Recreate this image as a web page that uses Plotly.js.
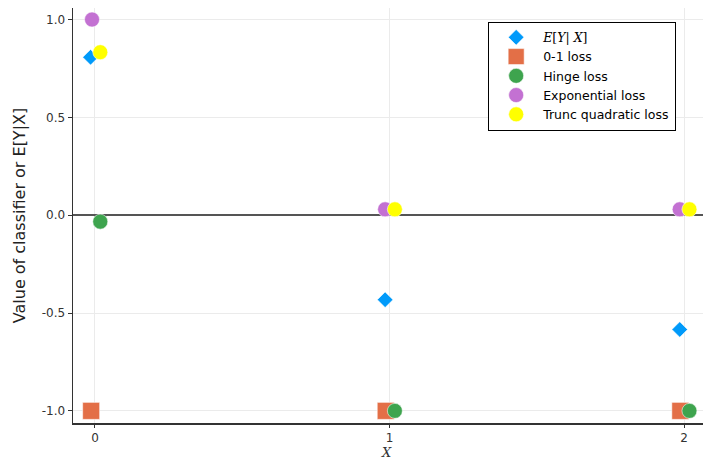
<!DOCTYPE html>
<html>
<head>
<meta charset="utf-8">
<script src="https://cdn.plot.ly/plotly-3.0.1.min.js"></script>
<style>html,body{margin:0;padding:0;background:#fff;}#chart{width:704px;height:462px;}</style>
</head>
<body>
<div id="chart"></div>
<script>
// Data
var xCond = [-0.015, 0.985, 1.985];
var yCond = [0.807, -0.432, -0.584];
var xZeroOne = [-0.013, 0.987, 1.987];
var yZeroOne = [-1.0, -1.0, -1.0];
var xHinge = [0.018, 1.018, 2.018];
var yHinge = [-0.033, -1.0, -1.0];
var xExp = [-0.01, 0.985, 1.985];
var yExp = [1.0, 0.03, 0.03];
var xTrunc = [0.018, 1.018, 2.018];
var yTrunc = [0.833, 0.03, 0.03];
var names = ["<span style='font-family:DejaVu Serif'><i>E</i>[<i>Y</i>| <i>X</i>]</span>", "0-1 loss", "Hinge loss", "Exponential loss", "Trunc quadratic loss"];
var colors = ["#009AFA", "#E36F47", "#3EA44E", "#C371D2", "#FFFF00"];

var edge = {color: "rgba(255,255,255,0.55)", width: 1};
var traces = [
  {x: xCond, y: yCond, name: names[0], mode: "markers", type: "scatter",
   marker: {symbol: "diamond", size: 12, color: colors[0], line: edge}},
  {x: xZeroOne, y: yZeroOne, name: names[1], mode: "markers", type: "scatter",
   marker: {symbol: "square", size: 17, color: colors[1], line: edge}},
  {x: xHinge, y: yHinge, name: names[2], mode: "markers", type: "scatter",
   marker: {symbol: "circle", size: 15, color: colors[2], line: edge}},
  {x: xExp, y: yExp, name: names[3], mode: "markers", type: "scatter",
   marker: {symbol: "circle", size: 15, color: colors[3], line: edge}},
  {x: xTrunc, y: yTrunc, name: names[4], mode: "markers", type: "scatter",
   marker: {symbol: "circle", size: 15, color: colors[4], line: edge}}
];

var layout = {
  width: 704, height: 462,
  margin: {l: 73, r: 1, t: 8, b: 39},
  paper_bgcolor: "#fff", plot_bgcolor: "#fff",
  font: {family: "DejaVu Sans", color: "#333", size: 12},
  showlegend: true,
  legend: {x: 0.659, y: 0.967, xanchor: "left", yanchor: "top",
    bordercolor: "#000", borderwidth: 1, bgcolor: "#fff",
    font: {family: "DejaVu Sans", size: 12.5, color: "#000"},
    tracegroupgap: 0, itemwidth: 44},
  xaxis: {
    range: [-0.0746, 2.064],
    tickvals: [0, 1, 2], ticktext: ["0", "1", "2"],
    showgrid: true, gridcolor: "#ebebeb", gridwidth: 1,
    zeroline: false,
    showline: true, linecolor: "#333", linewidth: 1.5,
    ticks: "outside", ticklen: 3, tickcolor: "#333",
    tickfont: {size: 12, color: "#333"}
  },
  yaxis: {
    range: [-1.062, 1.059],
    tickvals: [-1.0, -0.5, 0.0, 0.5, 1.0],
    ticktext: ["-1.0", "-0.5", "0.0", "0.5", "1.0"],
    showgrid: true, gridcolor: "#ebebeb", gridwidth: 1,
    zeroline: true, zerolinecolor: "#555", zerolinewidth: 1.5,
    showline: true, linecolor: "#333", linewidth: 1.5,
    ticks: "outside", ticklen: 4, tickcolor: "#333",
    tickfont: {size: 12, color: "#333"},
    title: {text: "Value of classifier or E[Y|X]", font: {family: "DejaVu Sans", size: 16, color: "#222"}, standoff: 12}
  },
  annotations: [{
    text: "<i>X</i>", xref: "paper", yref: "paper", x: 0.4973, y: -0.0925,
    xanchor: "center", yanchor: "bottom", showarrow: false, borderpad: 0,
    font: {family: "DejaVu Serif", size: 13, color: "#333"}
  }]
};

Plotly.newPlot("chart", traces, layout, {displayModeBar: false, staticPlot: true});
</script>
</body>
</html>
